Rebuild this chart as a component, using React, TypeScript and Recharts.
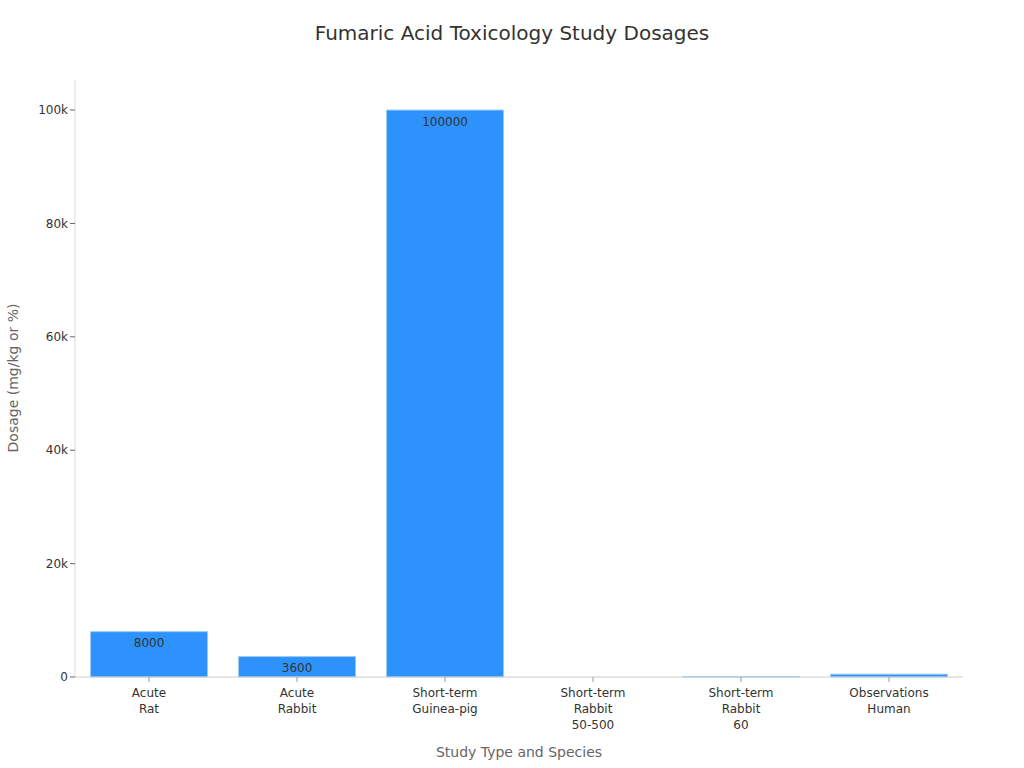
import { BarChart, Bar, XAxis, YAxis, LabelList } from 'recharts'

const categories = [
  'Acute\nRat',
  'Acute\nRabbit',
  'Short-term\nGuinea-pig',
  'Short-term\nRabbit\n50-500',
  'Short-term\nRabbit\n60',
  'Observations\nHuman',
]
const dosages = [8000, 3600, 100000, 0, 60, 500]
const yTicks = [0, 20000, 40000, 60000, 80000, 100000]

const data = categories.map((c, i) => ({ name: c, value: dosages[i] }))

const FONT = '"DejaVu Sans", sans-serif'

const MultiTick = ({ x, y, payload }: any) => {
  const lines = String(payload.value).split('\n')
  return (
    <text x={x} y={y + 1} textAnchor="middle" fill="#333" fontSize={12} fontFamily={FONT}>
      {lines.map((l, i) => (
        <tspan key={i} x={x} dy={i === 0 ? 12 : 16}>
          {l}
        </tspan>
      ))}
    </text>
  )
}

const fmtK = (v: number) => (v === 0 ? '0' : `${v / 1000}k`)

export default function App() {
  return (
    <div style={{ position: 'absolute', left: 0, top: 0, width: 1024, height: 768, background: '#fff' }}>
      <div
        style={{
          position: 'absolute',
          top: 21,
          width: 1024,
          textAlign: 'center',
          fontFamily: FONT,
          fontSize: 20,
          color: '#333',
        }}
      >
        Fumaric Acid Toxicology Study Dosages
      </div>
      <div
        style={{
          position: 'absolute',
          top: 744,
          left: 75,
          width: 888,
          textAlign: 'center',
          fontFamily: FONT,
          fontSize: 14,
          color: '#666',
        }}
      >
        Study Type and Species
      </div>
      <div
        style={{
          position: 'absolute',
          left: 13,
          top: 378,
          transform: 'translate(-50%, -50%) rotate(-90deg)',
          whiteSpace: 'nowrap',
          fontFamily: FONT,
          fontSize: 14,
          color: '#666',
        }}
      >
        Dosage (mg/kg or %)
      </div>
      <BarChart
        width={1024}
        height={768}
        data={data}
        margin={{ top: 80, right: 61, left: 15, bottom: 61 }}
        barCategoryGap="10.5%"
      >
        <XAxis
          dataKey="name"
          tick={<MultiTick />}
          interval={0}
          height={30}
          stroke="#ccc"
          tickLine={{ stroke: '#999' }}
          tickSize={5}
        />
        <YAxis
          domain={[0, 105300]}
          ticks={yTicks}
          tickFormatter={fmtK}
          width={60}
          stroke="#ddd"
          tickLine={{ stroke: '#666' }}
          tickSize={5}
          tick={{ fill: '#333', fontSize: 12, fontFamily: FONT }}
        />
        <Bar dataKey="value" fill="#2d92fb" stroke="#9ccaf5" strokeWidth={1} isAnimationActive={false}>
          <LabelList
            dataKey="value"
            position="insideTop"
            offset={7}
            fill="#333"
            fontSize={12}
            fontFamily={FONT}
            formatter={(v: any) => (v >= 1000 ? v : '')}
          />
        </Bar>
      </BarChart>
    </div>
  )
}
